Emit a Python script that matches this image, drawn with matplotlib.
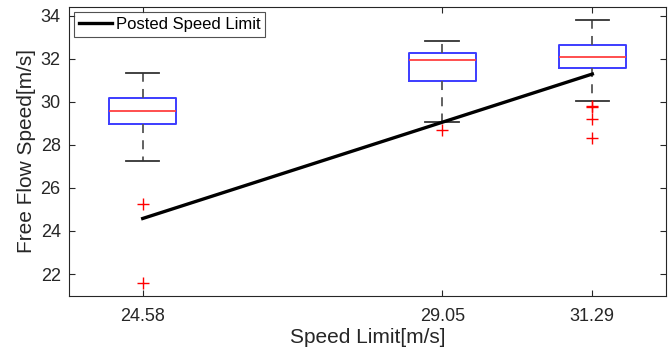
import matplotlib.pyplot as plt

plt.rcParams['font.family'] = ['Liberation Sans', 'DejaVu Sans']

# posted speed limits (box positions) and box statistics read per group
limits = [24.58, 29.05, 31.29]
q1 = [28.98, 30.96, 31.56]
med = [29.58, 31.95, 32.09]
q3 = [30.16, 32.26, 32.65]
whislo = [27.23, 29.04, 30.03]
whishi = [31.36, 32.84, 33.80]
fliers = [[25.24, 21.58], [28.70], [29.80, 29.74, 29.20, 28.30]]

stats = []
for i in range(len(limits)):
    stats.append(dict(q1=q1[i], med=med[i], q3=q3[i], whislo=whislo[i],
                      whishi=whishi[i], fliers=fliers[i]))

fig = plt.figure(figsize=(6.7, 3.6), dpi=100)
ax = fig.add_axes([0.103, 0.179, 0.8906, 0.8014])

ax.bxp(stats, positions=limits, widths=1.0, manage_ticks=False,
       boxprops=dict(color='#3c3cff', linewidth=1.4),
       medianprops=dict(color='#ff4040', linewidth=1.3),
       whiskerprops=dict(color='#555555', linewidth=1.3, linestyle=(0, (5, 4))),
       capprops=dict(color='#333333', linewidth=1.3),
       flierprops=dict(marker='+', markeredgecolor='red', markersize=8,
                       markeredgewidth=1.0, linestyle='none'))

ax.plot(limits, limits, color='black', linewidth=2.4, label='Posted Speed Limit')

ax.set_xlim(23.48, 32.385)
ax.set_ylim(21.0, 34.4)
ax.set_xticks(limits)
ax.set_xticklabels([f'{v:.2f}' for v in limits])
ax.set_yticks([22, 24, 26, 28, 30, 32, 34])

for s in ax.spines.values():
    s.set_color('#262626')
    s.set_linewidth(0.8)
ax.tick_params(direction='in', length=4, width=0.8, color='#262626',
               labelcolor='#262626', labelsize=13, top=True, right=True)
ax.tick_params(axis='x', pad=9)
ax.tick_params(axis='y', pad=6)

ax.set_xlabel('Speed Limit[m/s]', fontsize=15, color='#262626', labelpad=2)
ax.set_ylabel('Free Flow Speed[m/s]', fontsize=15, color='#262626', labelpad=3)

leg = ax.legend(loc='upper left', fontsize=12, frameon=True, fancybox=False,
                handlelength=2.0, handletextpad=0.2, borderpad=0.3,
                borderaxespad=0.3, edgecolor='#262626')
leg.get_frame().set_linewidth(0.8)

fig.savefig('out.png', dpi=100)
